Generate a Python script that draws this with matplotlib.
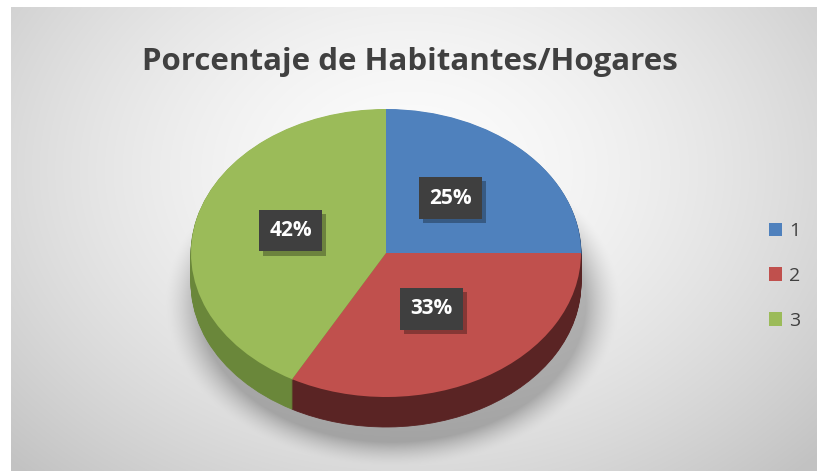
import numpy as np
import matplotlib
matplotlib.use('Agg')
from matplotlib import pyplot as plt
from matplotlib import transforms
from matplotlib import patheffects as pe

# datos del grafico
categorias = ['1', '2', '3']
valores = [25, 33, 42]
colores = ['#4f81bd', '#c0504d', '#9bbb59']
colores_lado = ['#2e4d75', '#5a2424', '#6a873a']
titulo = 'Porcentaje de Habitantes/Hogares'

W, H = 817, 471
fig = plt.figure(figsize=(W / 100, H / 100), dpi=100)
fuente = ['Open Sans', 'DejaVu Sans']

# fondo con degradado radial (area del grafico)
bg = fig.add_axes([0, 0, 1, 1])
bg.set_xlim(0, W)
bg.set_ylim(H, 0)
bg.axis('off')
yy, xx = np.mgrid[0:H, 0:W]
r = np.sqrt(((xx - 410) / 560.0) ** 2 + ((yy - 170) / 420.0) ** 2)
gris = 252 - 58 * np.clip(r, 0, 1) ** 1.6
# sombra suave debajo de la torta
re = np.sqrt(((xx - 392) / 215.0) ** 2 + ((yy - 302) / 155.0) ** 2)
sombra = 60 * np.clip((1.06 - re) / 0.16, 0, 1) ** 1.5
gris = gris - sombra
img = np.dstack([gris, gris, gris]) / 255.0
bg.imshow(np.ones((H, W, 3)), extent=(0, W, H, 0))
bg.imshow(img[7:, 11:], extent=(11, W, H, 7))

# torta 3D: eje con escalas distintas en x e y
cx, cy, rx, ry = 386, 253, 195, 144
prof = 30 / ry
x0, x1, y0, y1 = -1.2, 1.2, -1.5, 1.2
ax = fig.add_axes([(cx + x0 * rx) / W, (H - (cy - y0 * ry)) / H,
                   (x1 - x0) * rx / W, (y1 - y0) * ry / H])

n = 30
for k in range(n, 0, -1):
    ax.pie(valores, colors=colores_lado, startangle=90, counterclock=False,
           center=(0, -prof * k / n), radius=1, wedgeprops=dict(linewidth=0.6))
    for w in ax.patches[-3:]:
        w.set_edgecolor(w.get_facecolor())

wedges, textos, autotextos = ax.pie(
    valores, colors=colores, startangle=90, counterclock=False,
    autopct='%1.0f%%', pctdistance=0.49, radius=1,
    wedgeprops=dict(linewidth=0),
    textprops=dict(color='white', fontsize=15, fontweight='bold', family=fuente))

# cajas oscuras de las etiquetas con sombra
desplaz = transforms.offset_copy(ax.transData, fig=fig, x=-3, y=5, units='dots')
for t in autotextos:
    t.set_transform(desplaz)
    t.set_bbox(dict(boxstyle='square,pad=0.5', facecolor='#3f3f3f', edgecolor='none'))
    t.get_bbox_patch().set_path_effects(
        [pe.SimplePatchShadow(offset=(3, -3), shadow_rgbFace='black', alpha=0.3), pe.Normal()])

ax.set_aspect('auto')
ax.set_xlim(x0, x1)
ax.set_ylim(y0, y1)
ax.axis('off')

fig.text(410 / W, 1 - 62 / H, titulo, ha='center', va='center', fontsize=22.5,
         fontweight='bold', color='#404040', family=fuente)

leg = fig.legend(wedges, categorias, loc='center left', bbox_to_anchor=(751 / W, 1 - 276 / H),
                 frameon=False, handlelength=0.7, handleheight=0.7,
                 handletextpad=0.35, labelspacing=1.38, prop=dict(family=fuente, size=14))
for t in leg.get_texts():
    t.set_color('#404040')

fig.savefig('out.png', dpi=100)
